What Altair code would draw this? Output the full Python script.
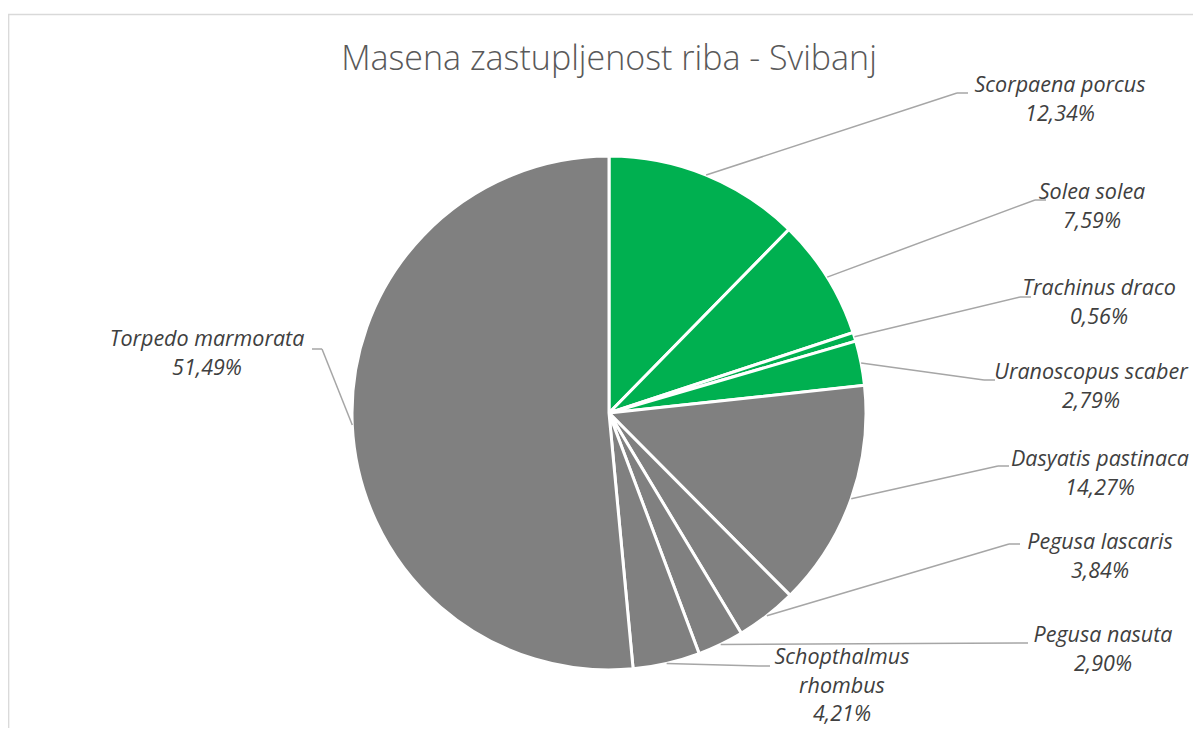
import altair as alt
import pandas as pd

# ---- data ----
species = ["Scorpaena porcus", "Solea solea", "Trachinus draco", "Uranoscopus scaber",
           "Dasyatis pastinaca", "Pegusa lascaris", "Pegusa nasuta",
           "Schopthalmus rhombus", "Torpedo marmorata"]
share = [12.34, 7.59, 0.56, 2.79, 14.27, 3.84, 2.90, 4.21, 51.49]
group = ["zelena", "zelena", "zelena", "zelena", "siva", "siva", "siva", "siva", "siva"]
name_lines = [["Scorpaena porcus"], ["Solea solea"], ["Trachinus draco"], ["Uranoscopus scaber"],
              ["Dasyatis pastinaca"], ["Pegusa lascaris"], ["Pegusa nasuta"],
              ["Schopthalmus", "rhombus"], ["Torpedo marmorata"]]
title_text = "Masena zastupljenost riba - Svibanj"

# ---- layout (plot pixels) ----
W, H = 1185, 720
CX, CY, R = 601, 405, 257
elbow_x = [949, 1027, 1012, 976, 990, 1001, 1010, 751, 314]
elbow_y = [85, 192, 289, 372, 458, 536, 635, 658, 341]
tick_len = [11, 11, 11, 11, 11, 11, 10, 11, -10]
text_x = [1052, 1084, 1091, 1083, 1092, 1092, 1095, 834, 199]
text_y = [78, 185, 281, 365, 452, 535, 628, 650, 332]

labels = ["\n".join(n + [f"{v:.2f}".replace(".", ",") + "%"]) for n, v in zip(name_lines, share)]

df = pd.DataFrame({
    "species": species, "share": share, "group": group, "idx": list(range(len(species))),
    "label": labels, "ex": elbow_x, "ey": elbow_y,
    "endx": [x + t for x, t in zip(elbow_x, tick_len)],
    "tx": text_x, "ty": text_y,
})

base = alt.Chart(df)

pie = base.mark_arc(radius=R, stroke="white", strokeWidth=3).encode(
    theta=alt.Theta("share:Q", stack=True),
    order=alt.Order("idx:Q"),
    color=alt.Color("group:N", scale=alt.Scale(domain=["zelena", "siva"],
                                                range=["#00B050", "#808080"]), legend=None),
    x=alt.value(CX), y=alt.value(CY),
)

leader_base = base.transform_window(
    cum="sum(share)", sort=[alt.SortField("idx")]
).transform_joinaggregate(total="sum(share)").transform_calculate(
    mid="2*PI*(datum.cum - datum.share/2)/datum.total"
).transform_calculate(
    sx=f"{CX} + {R}*sin(datum.mid)", sy=f"{CY} - {R}*cos(datum.mid)"
)

leader1 = leader_base.mark_rule(color="#A6A6A6", strokeWidth=1.5).encode(
    x=alt.X("sx:Q", scale=None, axis=None), y=alt.Y("sy:Q", scale=None, axis=None),
    x2="ex:Q", y2="ey:Q",
)
leader2 = base.mark_rule(color="#A6A6A6", strokeWidth=1.5).encode(
    x=alt.X("ex:Q", scale=None, axis=None), y=alt.Y("ey:Q", scale=None, axis=None),
    x2="endx:Q", y2="ey:Q",
)

text = base.mark_text(lineBreak="\n", align="center", baseline="middle", font="Open Sans",
                      fontStyle="italic", fontSize=21.5, lineHeight=28.5, color="#404040").encode(
    x=alt.X("tx:Q", scale=None, axis=None), y=alt.Y("ty:Q", scale=None, axis=None),
    text="label:N",
)

title = alt.Chart(pd.DataFrame({"t": [title_text]})).mark_text(
    font="Open Sans", fontSize=34, fontWeight=300, color="#595959",
    align="center", baseline="alphabetic").encode(
    text="t:N", x=alt.value(601), y=alt.value(62))

border_top = alt.Chart(pd.DataFrame({"a": [0]})).mark_rule(color="#D9D9D9", strokeWidth=1.3).encode(
    x=alt.value(0), x2=alt.value(W), y=alt.value(6.5))
border_left = alt.Chart(pd.DataFrame({"a": [0]})).mark_rule(color="#D9D9D9", strokeWidth=1.3).encode(
    x=alt.value(0.7), y=alt.value(6), y2=alt.value(H))

chart = alt.layer(border_top, border_left, pie, leader1, leader2, text, title).properties(
    width=W, height=H, autosize=alt.AutoSizeParams(type="none"), padding=0,
    background="white",
).configure_view(stroke=None)

chart.save("out.html", embed_options={"renderer": "svg", "actions": False})
